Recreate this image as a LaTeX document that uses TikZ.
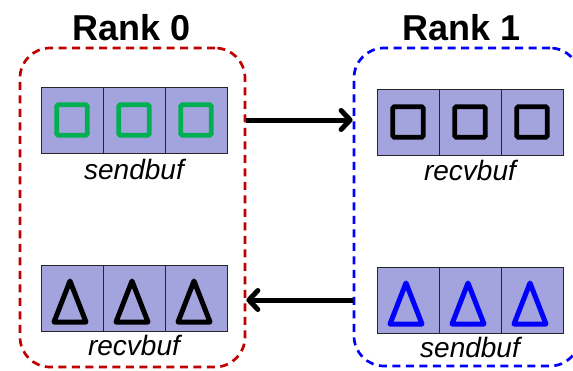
\documentclass[tikz,border=0pt]{standalone}
\usepackage{fontspec}
\setmainfont{Liberation Sans}
\usetikzlibrary{positioning}
\usetikzlibrary{arrows.meta}

\definecolor{cellfill}{HTML}{A3A3DE}
\definecolor{sendgreen}{HTML}{00B050}
\definecolor{rankred}{HTML}{C00000}
\definecolor{rankblue}{HTML}{0000FF}

\begin{document}
\begin{tikzpicture}[x=1pt,y=-1pt]
		\tikzset{cell/.style = {draw=black!85, fill=cellfill, line width=1pt,
				minimum width=62pt, minimum height=66pt, inner sep=0pt, outer sep=0pt}}
		\tikzset{rankbox/.style = {line width=2.7pt, dash pattern=on 8pt off 5.5pt,
				rounded corners=30pt, inner sep=0pt}}
		\tikzset{ranklabel/.style = {font=\fontsize{36}{38}\selectfont\bfseries, inner sep=0pt}}
		\tikzset{buflabel/.style = {font=\fontsize{28}{30}\selectfont\itshape, inner sep=0pt}}
		\tikzset{sq/.style = {draw, line width=4.8pt, rounded corners=1.5pt,
				minimum size=30.5pt, inner sep=0pt}}
		\tikzset{tri/.style = {line width=5pt, line join=round}}
		\tikzset{edge/.style = {line width=5pt,
				-{Straight Barb[length=9pt,width=19pt,round]}}}
		\clip (0,0) rectangle (573,370);
		\useasboundingbox (0,0) rectangle (573,370);
		% rank boxes
		\node[rankbox, draw=rankred, minimum width=225pt, minimum height=319pt] (r0) at (132.5,207.5) {};
		\node[rankbox, draw=rankblue, minimum width=226pt, minimum height=318pt] (r1) at (467,207) {};
		\node[ranklabel] (l0) at (132,28) {Rank 0};
		\node[ranklabel] (l1) at (462,28) {Rank 1};
		% rank 0 buffers
		\node[cell] (s0a) at (72,120) {};
		\node[cell, right=0pt of s0a] (s0b) {};
		\node[cell, right=0pt of s0b] (s0c) {};
		\node[buflabel, below=6pt of s0b] (s0l) {sendbuf};
		\node[cell] (t0a) at (72,298) {};
		\node[cell, right=0pt of t0a] (t0b) {};
		\node[cell, right=0pt of t0b] (t0c) {};
		\node[buflabel, below=4pt of t0b] (t0l) {recvbuf};
		% rank 1 buffers
		\node[cell] (s1a) at (408,122) {};
		\node[cell, right=0pt of s1a] (s1b) {};
		\node[cell, right=0pt of s1b] (s1c) {};
		\node[buflabel, below=5pt of s1b] (s1l) {recvbuf};
		\node[cell] (t1a) at (408,300) {};
		\node[cell, right=0pt of t1a] (t1b) {};
		\node[cell, right=0pt of t1b] (t1c) {};
		\node[buflabel, below=4pt of t1b] (t1l) {sendbuf};
		% data
		\foreach \c in {s0a,s0b,s0c}
			\node[sq, draw=sendgreen] at (\c) {};
		\foreach \c in {s1a,s1b,s1c}
			\node[sq, draw=black] at (\c) {};
		\foreach \c/\col in {t0a/black,t0b/black,t0c/black,t1a/rankblue,t1b/rankblue,t1c/rankblue}
			\draw[tri, draw=\col] ([shift={(-2,-17)}]\c.center) -- ([shift={(14,24)}]\c.center)
				-- ([shift={(-18,24)}]\c.center) -- cycle;
		% messages
		\draw[edge] (r0.east |- s0c.east) -- (r1.west |- s0c.east);
		\draw[edge] (r1.west |- t1a.west) -- (r0.east |- t1a.west);
	\end{tikzpicture}
\end{document}
